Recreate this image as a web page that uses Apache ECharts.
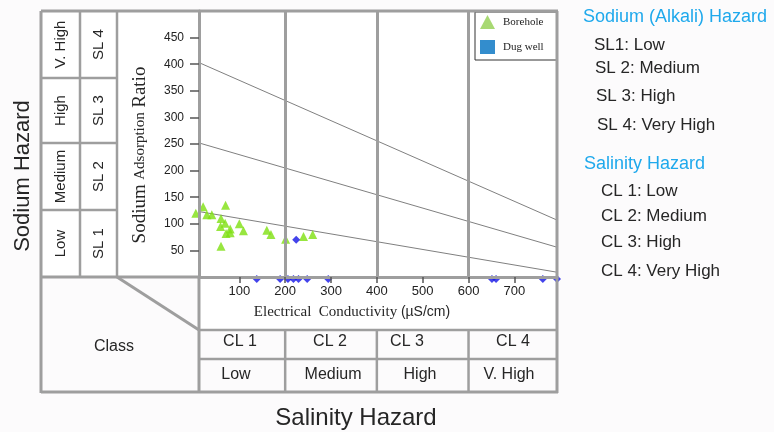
<!DOCTYPE html>
<html>
<head>
<meta charset="utf-8">
<script src="https://cdn.jsdelivr.net/npm/echarts@6/dist/echarts.min.js"></script>
<style>
  html, body { margin: 0; padding: 0; background: #fcfbfc; }
  #chart { width: 774px; height: 432px; }
</style>
</head>
<body>
<div id="chart"></div>
<script>
// Electrical conductivity tick values and salinity class boundaries (µS/cm)
const ecTicks = [100, 200, 300, 400, 500, 600, 700];
const salinityBounds = [200, 400, 600];

// Borehole samples: EC (µS/cm) and SAR
const boreholeEC  = [21, 5, 29, 40, 70, 60, 69, 59, 80, 80, 71, 100, 109, 60, 160, 169, 201, 240, 260];
const boreholeSAR = [132, 120, 117, 117, 135, 110, 101, 95, 90, 83, 82, 100, 87, 58, 88, 80, 71, 76, 80];

// Dug well samples: EC (µS/cm) and SAR
const dugEC  = [224, 138, 189, 206, 218, 229, 248, 294, 651, 660, 762, 793];
const dugSAR = [70, 0, 0, 0, 0, 0, 0, 0, 0, 0, 0, 0];

// Sodium hazard class boundary lines: SAR at both ends of the EC range
const boundaryEC = [12, 793];
const boundarySL2 = [123, 9];
const boundarySL3 = [252, 56];
const boundarySL4 = [403, 107];

// Class labels
const slLevels = ['V. High', 'High', 'Medium', 'Low'];
const slClasses = ['SL 4', 'SL 3', 'SL 2', 'SL 1'];
const clClasses = ['CL 1', 'CL 2', 'CL 3', 'CL 4'];
const clLevels = ['Low', 'Medium', 'High', 'V. High'];
const sodiumNotes = ['SL1: Low', 'SL 2: Medium', 'SL 3: High', 'SL 4: Very High'];
const salinityNotes = ['CL 1: Low', 'CL 2: Medium', 'CL 3: High', 'CL 4: Very High'];

const SANS = 'Liberation Sans, Arial, sans-serif';
const SERIF = 'Liberation Serif, Times New Roman, serif';
const FRAME = '#9e9e9e';
const INK = '#262626';
const CYAN = '#1fa9ec';

const chart = echarts.init(document.getElementById('chart'), null, { renderer: 'canvas' });

function pairs(xs, ys) { return xs.map((x, i) => [x, ys[i]]); }
function boundary(vals) {
  return {
    type: 'line', data: pairs(boundaryEC, vals), symbol: 'none', silent: true,
    lineStyle: { color: '#808080', width: 1 }, z: 1, animation: false
  };
}

// samples with SAR 0 sit on the axis line; nudge their markers just below it
const dugData = pairs(dugEC, dugSAR).map(p => p[1] === 0 ? { value: p, symbolOffset: [0, 2] } : { value: p });

const option = {
  animation: false,
  backgroundColor: '#fcfbfc',
  grid: { left: 199, top: 11, width: 358, height: 266, show: true, backgroundColor: '#ffffff', borderWidth: 0 },
  xAxis: {
    type: 'value', min: 12, max: 793, z: 5,
    axisLine: { show: true, onZero: false, lineStyle: { color: FRAME, width: 3 } },
    axisTick: { show: true, customValues: ecTicks, length: 6, lineStyle: { color: '#555', width: 1.5 } },
    axisLabel: { customValues: ecTicks, margin: 8, fontSize: 13, fontFamily: SANS, color: '#222' },
    splitLine: { show: false }
  },
  yAxis: {
    type: 'value', min: 0, max: 500, interval: 50, z: 5,
    axisLine: { show: true, onZero: false, lineStyle: { color: FRAME, width: 3 } },
    axisTick: { show: true, length: 9, lineStyle: { color: '#555', width: 1.5 } },
    axisLabel: { showMinLabel: false, showMaxLabel: false, margin: 15, fontSize: 12, fontFamily: SANS, color: '#222' },
    splitLine: { show: false }
  },
  legend: {
    left: 475, top: 12, orient: 'vertical',
    backgroundColor: '#ffffff', borderColor: '#333', borderWidth: 1,
    padding: [3, 13, 6, 5], itemWidth: 15, itemHeight: 14, itemGap: 11,
    textStyle: { fontFamily: SERIF, fontSize: 11, color: '#222', padding: [0, 0, 0, 3] },
    data: [
      { name: 'Borehole', icon: 'triangle', itemStyle: { color: '#92d050' } },
      { name: 'Dug well', icon: 'rect', itemStyle: { color: '#0070c0' } }
    ]
  },
  series: [
    boundary(boundarySL2),
    boundary(boundarySL3),
    boundary(boundarySL4),
    {
      name: 'Borehole', type: 'scatter', clip: false, symbol: 'triangle', symbolSize: 9,
      itemStyle: { color: '#7ee010' }, data: pairs(boreholeEC, boreholeSAR), z: 3,
      markLine: {
        silent: true, symbol: 'none', label: { show: false },
        lineStyle: { color: FRAME, width: 3, type: 'solid' },
        data: salinityBounds.map(v => ({ xAxis: v }))
      }
    },
    {
      name: 'Dug well', type: 'scatter', clip: false, symbol: 'diamond', symbolSize: 8,
      itemStyle: { color: '#1414e6' }, data: dugData, z: 3
    }
  ]
};
chart.setOption(option);

// Frame, class tables and annotation text
const boundPx = salinityBounds.map(v => chart.convertToPixel({ xAxisIndex: 0 }, v));

function seg(x1, y1, x2, y2, w) {
  return { type: 'line', silent: true, z: 10, shape: { x1, y1, x2, y2 }, style: { stroke: FRAME, lineWidth: w || 3 } };
}
function txt(x, y, text, size, opts) {
  opts = opts || {};
  return {
    type: 'text', silent: true, z: 11, x, y, rotation: opts.rotation || 0,
    style: {
      text, fill: opts.fill || INK, fontSize: size, fontFamily: opts.family || SANS,
      align: opts.align || 'center', verticalAlign: 'middle', rich: opts.rich
    }
  };
}

const g = [];
// white panels outside the plot area
g.push({ type: 'rect', silent: true, z: -10, shape: { x: 41, y: 11, width: 158, height: 266 }, style: { fill: '#ffffff' } });
g.push({ type: 'rect', silent: true, z: -10, shape: { x: 199, y: 277, width: 358, height: 53 }, style: { fill: '#ffffff' } });

// outer frame
g.push(seg(41, 11, 558, 11));
g.push(seg(41, 11, 41, 393));
g.push(seg(557, 11, 557, 393));
g.push(seg(41, 392, 558, 392));
g.push(seg(41, 277, 199, 277));
// sodium class panel
g.push(seg(80, 11, 80, 277, 2.5));
g.push(seg(117, 11, 117, 277, 2.5));
[78, 143, 210].forEach(y => g.push(seg(41, y, 117, y, 2.5)));
// salinity class panel
g.push(seg(117, 277, 199, 330, 3));
g.push(seg(199, 277, 199, 392, 3));
g.push(seg(199, 330, 557, 330, 2.5));
g.push(seg(199, 359, 557, 359, 2.5));
boundPx.forEach(x => g.push(seg(x, 330, x, 392, 2.5)));

// sodium class labels
const rowCenters = [44.5, 110.5, 176.5, 243.5];
rowCenters.forEach((y, i) => {
  g.push(txt(61, y, slLevels[i], 15, { rotation: Math.PI / 2 }));
  g.push(txt(99, y, slClasses[i], 15, { rotation: Math.PI / 2 }));
});
g.push(txt(140, 155, '{a|Sodium} {b|Adsorption} {a|Ratio}', 18, {
  rotation: Math.PI / 2, family: SERIF,
  rich: { a: { fontFamily: SERIF, fontSize: 19, fill: INK }, b: { fontFamily: SERIF, fontSize: 15, fill: INK } }
}));
g.push(txt(23, 176, 'Sodium Hazard', 22, { rotation: Math.PI / 2 }));

// salinity class labels
const clX = [240, 330, 407, 513];
const lvX = [236, 333, 420, 509];
clClasses.forEach((t, i) => g.push(txt(clX[i], 342, t, 16)));
clLevels.forEach((t, i) => g.push(txt(lvX[i], 375, t, 16)));
g.push(txt(114, 347, 'Class', 16));
g.push(txt(352, 312, '{s|Electrical  Conductivity }{u|(µS/cm)}', 15, {
  rich: { s: { fontFamily: SERIF, fontSize: 15, fill: INK }, u: { fontFamily: SANS, fontSize: 14, fill: INK } }
}));
g.push(txt(356, 418, 'Salinity Hazard', 24));

// hazard key on the right
g.push(txt(583, 17, 'Sodium (Alkali) Hazard', 18, { align: 'left', fill: CYAN }));
const slY = [45, 68, 96, 125];
const slXs = [594, 595, 596, 597];
sodiumNotes.forEach((t, i) => g.push(txt(slXs[i], slY[i], t, 17, { align: 'left' })));
g.push(txt(584, 164, 'Salinity Hazard', 18, { align: 'left', fill: CYAN }));
const clY = [191, 216, 242, 271];
salinityNotes.forEach((t, i) => g.push(txt(601, clY[i], t, 17, { align: 'left' })));

chart.setOption({ graphic: g });
</script>
</body>
</html>
